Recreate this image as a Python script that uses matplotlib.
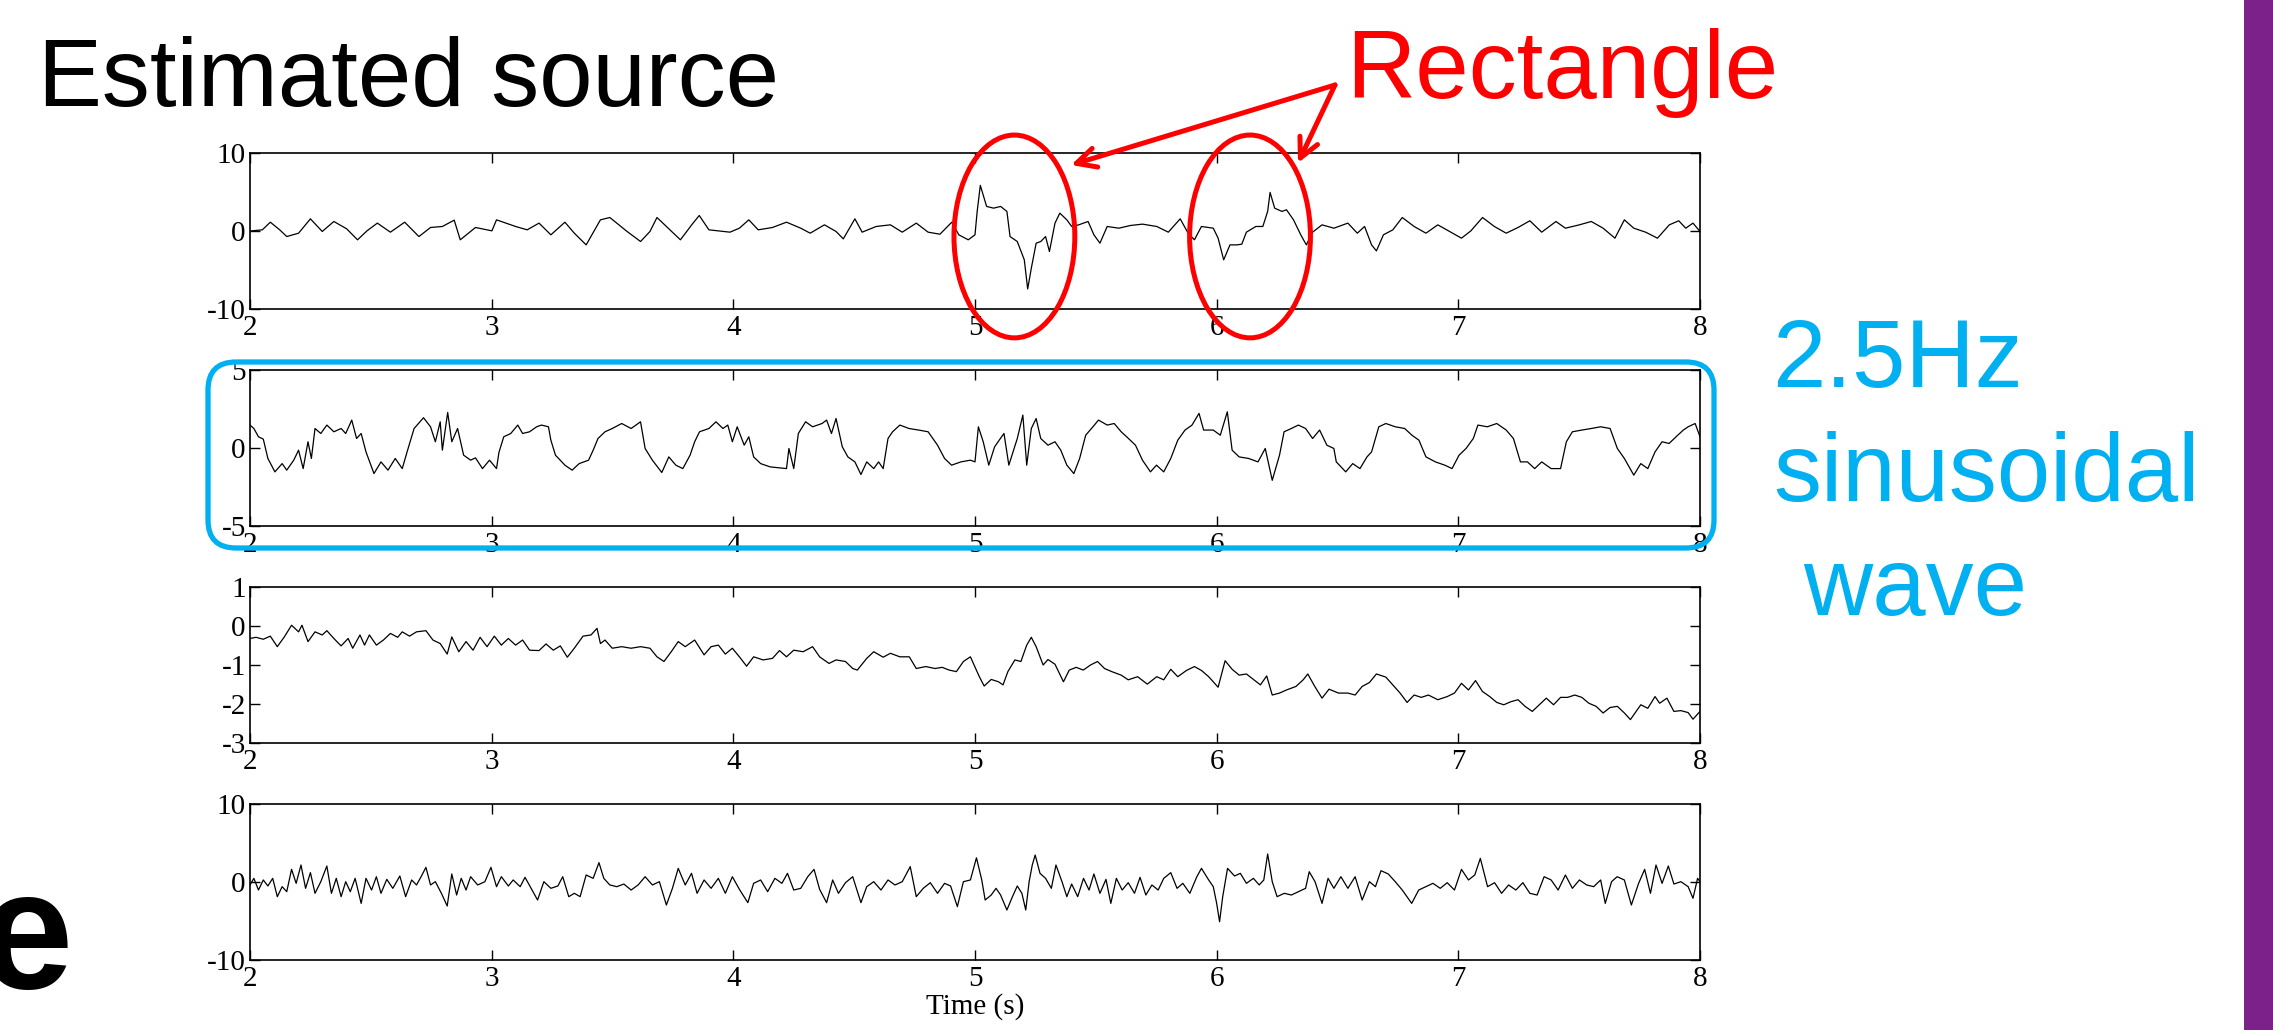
import numpy as np
import matplotlib.pyplot as plt
from matplotlib.patches import Ellipse, FancyBboxPatch, Rectangle

# ---- trace 1 (top panel) ----
t1 = [2.000, 2.051, 2.084, 2.123, 2.152, 2.201, 2.250, 2.299, 2.347, 2.400,
      2.445, 2.484, 2.527, 2.581, 2.640, 2.699, 2.747, 2.796, 2.845, 2.870,
      2.933, 3.001, 3.020, 3.099, 3.147, 3.196, 3.245, 3.303, 3.342, 3.391,
      3.450, 3.489, 3.557, 3.616, 3.655, 3.684, 3.752, 3.781, 3.830, 3.859,
      3.899, 3.986, 4.025, 4.064, 4.103, 4.162, 4.220, 4.279, 4.318, 4.377,
      4.425, 4.455, 4.503, 4.533, 4.591, 4.650, 4.699, 4.757, 4.806, 4.855,
      4.904, 4.933, 4.972,
      5.000, 5.009, 5.022, 5.048, 5.077, 5.106, 5.132, 5.145, 5.175, 5.204,
      5.218, 5.233, 5.253, 5.272, 5.292, 5.308, 5.331, 5.351, 5.380, 5.400,
      5.429, 5.468, 5.492, 5.517, 5.547, 5.595, 5.644, 5.693, 5.752, 5.800,
      5.849, 5.882, 5.908, 5.937, 5.986, 6.006, 6.029, 6.055, 6.084, 6.104,
      6.123, 6.162, 6.191, 6.211, 6.221, 6.240, 6.270, 6.289, 6.318, 6.348,
      6.371, 6.397, 6.436, 6.485, 6.543, 6.582, 6.612, 6.641, 6.661, 6.690,
      6.729, 6.768, 6.817, 6.866, 6.915, 6.964, 7.013, 7.052, 7.100, 7.149,
      7.198, 7.247, 7.296, 7.345, 7.404, 7.443, 7.501, 7.550, 7.599, 7.648,
      7.687, 7.726, 7.775, 7.824, 7.873, 7.912, 7.941, 7.971, 8.000]
v1 = [0.00, 0.15, 1.13, 0.15, -0.71, -0.28, 1.56, -0.06, 1.22, 0.28,
      -1.13, 0.02, 1.01, -0.15, 1.13, -0.71, 0.45, 0.58, 1.39, -1.13,
      0.45, 0.02, 1.43, 0.58, 0.15, 1.01, -0.49, 1.13, -0.28, -1.78,
      1.43, 1.73, 0.02, -1.35, -0.06, 1.73, -0.28, -1.13, 0.88, 1.99,
      0.15, -0.15, 0.36, 1.43, 0.15, 0.45, 1.13, 0.36, -0.28, 0.79,
      -0.06, -1.01, 1.56, -0.15, 0.58, 0.79, -0.15, 1.01, -0.15, -0.41,
      1.13, -0.49, -1.13,
      -0.49, 2.51, 5.85, 3.15, 2.93, 3.15, 2.51, -0.71, -1.35, -3.70,
      -7.43, -4.78, -1.56, -1.35, -0.71, -2.63, 1.01, 2.29, 1.43, 0.58,
      0.79, 1.22, -0.49, -1.56, 0.58, 0.36, 0.71, 0.88, 0.58, -0.15,
      1.56, -0.28, -1.13, 0.58, 0.36, -0.92, -3.70, -1.78, -1.78, -1.69,
      -0.15, 0.58, 0.58, 2.51, 4.95, 2.93, 2.51, 2.72, 1.43, -0.49,
      -1.78, -0.15, 0.79, 0.36, 1.01, -0.28, 0.58, -1.78, -2.55, -0.49,
      0.15, 1.73, 0.58, -0.28, 0.79, -0.06, -0.92, 0.02, 1.73, 0.58,
      -0.28, 0.45, 1.31, -0.15, 1.22, 0.36, 0.79, 1.22, 0.36, -0.92,
      1.43, 0.36, -0.15, -0.92, 0.79, 1.31, 0.36, 1.01, -0.06]

# ---- trace 2 (2.5 Hz wave) ----
t2 = [2.000, 2.016, 2.035, 2.055, 2.074, 2.103, 2.133, 2.152, 2.181, 2.201,
      2.220, 2.240, 2.254, 2.269, 2.293, 2.318, 2.347, 2.377, 2.396, 2.421,
      2.441, 2.460, 2.480, 2.513, 2.542, 2.571, 2.601, 2.630, 2.650, 2.679,
      2.718, 2.747, 2.767, 2.787, 2.796, 2.818, 2.835, 2.859, 2.884, 2.913,
      2.933, 2.962, 2.991, 3.020, 3.030, 3.050, 3.079, 3.108, 3.128, 3.157,
      3.186, 3.206, 3.235, 3.245, 3.264, 3.303, 3.333, 3.362, 3.401, 3.420,
      3.440, 3.469, 3.499, 3.538, 3.577, 3.616, 3.635, 3.665, 3.704, 3.733,
      3.762, 3.791, 3.821, 3.840, 3.860, 3.899, 3.928, 3.957, 3.977, 3.996,
      4.016, 4.045, 4.064, 4.084, 4.113, 4.152, 4.191, 4.220, 4.230, 4.250,
      4.269, 4.299, 4.328, 4.367, 4.386, 4.406, 4.425, 4.451, 4.474, 4.503,
      4.528, 4.552, 4.581, 4.601, 4.620, 4.640, 4.659, 4.689, 4.727, 4.767,
      4.806, 4.845, 4.874, 4.903, 4.942, 4.981,
      5.000, 5.014, 5.034, 5.057, 5.081, 5.100, 5.120, 5.140, 5.175, 5.198,
      5.214, 5.233, 5.253, 5.272, 5.302, 5.331, 5.355, 5.380, 5.409, 5.433,
      5.458, 5.488, 5.511, 5.547, 5.576, 5.605, 5.635, 5.664, 5.693, 5.726,
      5.751, 5.781, 5.810, 5.839, 5.869, 5.898, 5.927, 5.946, 5.986, 6.015,
      6.044, 6.064, 6.093, 6.132, 6.171, 6.201, 6.230, 6.260, 6.279, 6.309,
      6.338, 6.368, 6.397, 6.426, 6.456, 6.485, 6.495, 6.534, 6.563, 6.593,
      6.622, 6.641, 6.671, 6.700, 6.739, 6.778, 6.808, 6.837, 6.866, 6.905,
      6.944, 6.974, 7.003, 7.032, 7.062, 7.081, 7.120, 7.159, 7.198, 7.228,
      7.257, 7.286, 7.316, 7.345, 7.384, 7.423, 7.447, 7.472, 7.511, 7.550,
      7.589, 7.628, 7.658, 7.687, 7.726, 7.755, 7.784, 7.814, 7.843, 7.872,
      7.901, 7.931, 7.951, 7.980, 8.000]
v2 = [1.47, 1.25, 0.72, 0.57, -0.67, -1.53, -1.00, -1.42, -0.78, -0.14,
      -1.32, 0.40, -0.67, 1.25, 0.93, 1.47, 1.04, 1.25, 0.93, 1.79,
      0.61, 0.93, -0.25, -1.64, -0.89, -1.42, -0.67, -1.32, -0.25, 1.25,
      1.94, 1.36, 0.40, 1.68, -0.14, 2.28, 0.40, 1.25, -0.46, -0.78,
      -0.63, -1.32, -0.78, -1.32, -0.29, 0.72, 0.93, 1.47, 0.93, 1.04,
      1.36, 1.47, 1.36, 0.50, -0.46, -1.10, -1.42, -1.00, -0.78, -0.14,
      0.61, 1.04, 1.25, 1.57, 1.25, 1.68, -0.03, -0.78, -1.57, -0.57,
      -1.10, -1.32, -0.46, 0.40, 1.04, 1.25, 1.68, 1.25, 1.47, 0.40,
      1.36, 0.18, 0.72, -0.57, -1.00, -1.21, -1.27, -1.32, -0.03, -1.32,
      0.93, 1.68, 1.36, 1.57, 1.79, 0.93, 1.89, 0.07, -0.57, -0.89,
      -1.70, -0.89, -1.32, -0.89, -1.32, 0.61, 1.04, 1.47, 1.25, 1.15,
      1.04, 0.18, -0.67, -1.10, -0.89, -0.78,
      -0.89, 1.36, 0.40, -1.10, 0.07, 0.50, 0.93, -1.10, 0.61, 2.11,
      -1.10, 1.25, 1.89, 0.61, 0.18, 0.40, -0.14, -1.10, -1.64, -0.67,
      0.82, 1.36, 1.79, 1.47, 1.57, 1.04, 0.61, 0.18, -0.78, -1.53,
      -1.10, -1.53, -0.67, 0.50, 1.15, 1.47, 2.22, 1.15, 1.15, 0.82,
      2.32, -0.14, -0.57, -0.67, -0.89, -0.03, -2.07, -0.46, 1.04, 1.25,
      1.47, 1.25, 0.61, 1.15, 0.18, -0.03, -0.89, -1.53, -1.00, -1.32,
      -0.57, -0.25, 1.36, 1.57, 1.36, 1.25, 0.82, 0.50, -0.57, -0.89,
      -1.10, -1.32, -0.46, -0.03, 0.61, 1.47, 1.36, 1.57, 1.15, 0.61,
      -0.89, -0.89, -1.32, -0.89, -1.32, -1.32, 0.40, 1.04, 1.15, 1.25,
      1.36, 1.25, -0.03, -0.67, -1.74, -1.00, -1.32, -0.25, 0.40, 0.29,
      0.72, 1.15, 1.36, 1.57, 0.72]

# ---- trace 3 (drifting) ----
t3 = [2.000, 2.025, 2.055, 2.084, 2.113, 2.142, 2.172, 2.201, 2.215, 2.240,
      2.269, 2.299, 2.318, 2.347, 2.377, 2.406, 2.425, 2.455, 2.474, 2.494,
      2.523, 2.552, 2.581, 2.611, 2.630, 2.660, 2.689, 2.728, 2.757, 2.787,
      2.816, 2.835, 2.864, 2.894, 2.923, 2.952, 2.981, 3.011, 3.040, 3.069,
      3.099, 3.128, 3.157, 3.196, 3.225, 3.255, 3.284, 3.313, 3.342, 3.378,
      3.411, 3.436, 3.450, 3.469, 3.499, 3.538, 3.577, 3.616, 3.655, 3.684,
      3.713, 3.743, 3.772, 3.801, 3.840, 3.879, 3.908, 3.938, 3.967, 3.996,
      4.025, 4.055, 4.084, 4.123, 4.162, 4.191, 4.220, 4.250, 4.289, 4.328,
      4.357, 4.396, 4.425, 4.464, 4.494, 4.513, 4.552, 4.581, 4.620, 4.650,
      4.689, 4.728, 4.757, 4.796, 4.835, 4.864, 4.893, 4.923, 4.952, 4.981,
      5.018, 5.038, 5.067, 5.097, 5.116, 5.136, 5.165, 5.190, 5.214, 5.233,
      5.253, 5.282, 5.302, 5.331, 5.366, 5.390, 5.419, 5.448, 5.478, 5.507,
      5.536, 5.566, 5.605, 5.634, 5.673, 5.713, 5.752, 5.781, 5.810, 5.839,
      5.875, 5.908, 5.937, 5.967, 6.006, 6.035, 6.064, 6.093, 6.123, 6.152,
      6.181, 6.207, 6.230, 6.260, 6.289, 6.328, 6.358, 6.377, 6.406, 6.436,
      6.465, 6.504, 6.543, 6.573, 6.602, 6.632, 6.661, 6.700, 6.729, 6.759,
      6.788, 6.817, 6.847, 6.876, 6.915, 6.954, 6.984, 7.013, 7.042, 7.071,
      7.100, 7.130, 7.159, 7.188, 7.218, 7.247, 7.276, 7.306, 7.335, 7.364,
      7.394, 7.423, 7.452, 7.482, 7.511, 7.540, 7.570, 7.599, 7.628, 7.658,
      7.687, 7.712, 7.736, 7.755, 7.784, 7.814, 7.833, 7.863, 7.892, 7.921,
      7.951, 7.971, 8.000]
v3 = [-0.32, -0.29, -0.34, -0.26, -0.53, -0.28, 0.02, -0.15, 0.02, -0.40,
      -0.15, -0.23, -0.12, -0.32, -0.51, -0.32, -0.57, -0.23, -0.49, -0.23,
      -0.49, -0.36, -0.19, -0.29, -0.15, -0.26, -0.15, -0.12, -0.36, -0.45,
      -0.72, -0.28, -0.66, -0.40, -0.62, -0.29, -0.53, -0.26, -0.49, -0.32,
      -0.49, -0.36, -0.62, -0.63, -0.46, -0.62, -0.51, -0.80, -0.57, -0.26,
      -0.23, -0.06, -0.45, -0.36, -0.57, -0.53, -0.57, -0.53, -0.57, -0.79,
      -0.91, -0.66, -0.40, -0.53, -0.36, -0.74, -0.53, -0.49, -0.72, -0.57,
      -0.79, -1.03, -0.79, -0.87, -0.83, -0.63, -0.79, -0.62, -0.66, -0.53,
      -0.79, -0.96, -0.87, -0.91, -1.09, -1.13, -0.83, -0.66, -0.80, -0.70,
      -0.79, -0.79, -1.09, -1.04, -1.09, -1.06, -1.13, -1.17, -0.91, -0.79,
      -1.30, -1.54, -1.37, -1.43, -1.51, -1.17, -0.87, -0.91, -0.49, -0.29,
      -0.53, -1.00, -0.86, -0.98, -1.43, -1.13, -1.06, -1.13, -1.00, -0.91,
      -1.09, -1.17, -1.26, -1.38, -1.30, -1.49, -1.30, -1.38, -1.11, -1.30,
      -1.14, -1.04, -1.14, -1.30, -1.57, -0.89, -1.11, -1.26, -1.23, -1.37,
      -1.51, -1.28, -1.77, -1.72, -1.64, -1.55, -1.38, -1.23, -1.55, -1.85,
      -1.62, -1.72, -1.72, -1.77, -1.55, -1.45, -1.23, -1.31, -1.51, -1.72,
      -1.96, -1.77, -1.83, -1.77, -1.89, -1.81, -1.72, -1.47, -1.64, -1.40,
      -1.68, -1.81, -1.96, -2.02, -1.94, -1.89, -2.06, -2.19, -2.02, -1.85,
      -2.02, -1.83, -1.83, -1.77, -1.83, -1.98, -2.06, -2.23, -2.09, -2.06,
      -2.23, -2.40, -2.19, -2.02, -2.11, -1.81, -1.98, -1.85, -2.19, -2.17,
      -2.22, -2.39, -2.19]

# ---- trace 4 (bottom, noisy) ----
t4 = [2.000, 2.016, 2.035, 2.055, 2.074, 2.094, 2.113, 2.133, 2.152, 2.172,
      2.191, 2.211, 2.230, 2.250, 2.269, 2.293, 2.318, 2.337, 2.357, 2.377,
      2.396, 2.415, 2.435, 2.460, 2.480, 2.503, 2.523, 2.542, 2.566, 2.591,
      2.620, 2.644, 2.669, 2.689, 2.708, 2.728, 2.747, 2.767, 2.792, 2.816,
      2.835, 2.855, 2.874, 2.894, 2.913, 2.942, 2.972, 2.997, 3.020, 3.040,
      3.069, 3.089, 3.118, 3.138, 3.163, 3.190, 3.216, 3.245, 3.274, 3.294,
      3.319, 3.342, 3.366, 3.391, 3.420, 3.444, 3.464, 3.489, 3.518, 3.547,
      3.577, 3.606, 3.635, 3.665, 3.694, 3.723, 3.748, 3.772, 3.801, 3.827,
      3.850, 3.879, 3.908, 3.938, 3.967, 3.996, 4.025, 4.060, 4.084, 4.113,
      4.142, 4.172, 4.201, 4.224, 4.250, 4.279, 4.308, 4.334, 4.357, 4.386,
      4.411, 4.435, 4.464, 4.494, 4.528, 4.552, 4.581, 4.611, 4.640, 4.669,
      4.699, 4.732, 4.757, 4.786, 4.815, 4.845, 4.874, 4.899, 4.927, 4.952,
      4.981,
      5.006, 5.028, 5.042, 5.067, 5.087, 5.106, 5.132, 5.155, 5.175, 5.194,
      5.210, 5.224, 5.237, 5.249, 5.269, 5.292, 5.316, 5.335, 5.360, 5.380,
      5.400, 5.425, 5.449, 5.472, 5.492, 5.517, 5.542, 5.562, 5.585, 5.609,
      5.634, 5.660, 5.683, 5.707, 5.732, 5.758, 5.781, 5.810, 5.836, 5.860,
      5.889, 5.918, 5.937, 5.967, 5.986, 6.000, 6.012, 6.025, 6.045, 6.074,
      6.098, 6.123, 6.152, 6.176, 6.195, 6.211, 6.230, 6.250, 6.280, 6.309,
      6.338, 6.368, 6.383, 6.407, 6.436, 6.461, 6.485, 6.514, 6.543, 6.573,
      6.602, 6.632, 6.657, 6.680, 6.710, 6.739, 6.768, 6.807, 6.836, 6.866,
      6.895, 6.925, 6.954, 6.984, 7.013, 7.042, 7.068, 7.091, 7.121, 7.150,
      7.179, 7.208, 7.238, 7.267, 7.296, 7.326, 7.355, 7.384, 7.413, 7.443,
      7.472, 7.501, 7.531, 7.560, 7.589, 7.608, 7.634, 7.657, 7.687, 7.716,
      7.746, 7.771, 7.795, 7.818, 7.843, 7.869, 7.892, 7.921, 7.951, 7.971,
      7.990, 8.000]
v4 = [-0.38, 0.47, -1.03, 0.26, -0.51, 0.47, -1.88, -0.60, -1.24, 1.62,
      -0.17, 2.18, -0.81, 1.20, -1.45, 0.04, 2.05, -1.45, 0.47, -1.88,
      0.04, -1.24, 0.47, -2.74, 0.47, -1.03, 0.68, -1.45, 0.34, -0.81,
      0.77, -1.88, 0.26, -0.38, 0.68, 1.88, -0.38, 0.04, -1.45, -3.08,
      1.03, -1.67, 0.47, -1.03, 0.68, -0.38, 0.04, 1.88, -0.60, 0.68,
      -0.51, 0.26, -0.60, 0.60, -0.81, -2.31, 0.04, -0.81, -0.51, 0.68,
      -1.88, -1.45, -1.88, 0.90, 0.47, 2.48, 0.47, -0.38, -0.60, -0.26,
      -1.03, -0.38, 0.68, -0.38, 0.04, -2.95, -0.81, 1.75, -0.38, 1.11,
      -1.45, 0.26, -0.81, 0.47, -1.45, 0.68, -0.94, -2.65, -0.17, 0.26,
      -1.24, 0.47, -0.17, 1.11, -1.03, -0.81, 0.68, 1.62, -0.94, -2.65,
      0.26, -1.45, -0.09, 0.68, -2.65, -0.60, 0.04, -1.03, 0.26, -0.38,
      0.04, 1.97, -1.88, -0.81, -0.09, -1.45, -0.17, -0.51, -3.16, 0.04,
      0.26,
      3.10, 0.26, -2.31, -1.67, -0.81, -1.67, -3.59, -1.88, -0.51, -1.45,
      -3.59, 0.04, 2.18, 3.46, 1.11, 0.47, -0.81, 2.18, 0.04, -1.88,
      -0.26, -1.88, 0.47, -1.03, 1.03, -1.45, 0.34, -2.74, 0.47, -1.03,
      -0.09, -1.45, 0.60, -1.67, -0.38, -1.03, 0.47, 1.20, -0.81, -0.17,
      -1.45, 0.68, 1.75, 0.26, -0.60, -2.74, -5.09, -1.88, 1.75, 0.77,
      1.11, -0.17, 0.47, -0.38, 0.26, 3.59, 0.04, -1.88, -1.45, -1.67,
      -1.24, -0.81, 1.32, 0.04, -2.74, 0.47, -0.81, 0.68, -0.81, 0.68,
      -2.31, 0.04, -0.60, 1.45, 1.03, 0.04, -1.03, -2.74, -1.03, -0.60,
      -0.17, -0.81, -0.09, -1.03, 1.62, 0.26, 0.90, 3.03, -0.60, -0.09,
      -1.45, -0.38, -1.03, -0.09, -1.45, -1.67, 0.68, 0.26, -1.03, 0.90,
      -0.81, 0.26, -0.38, -0.60, 0.26, -2.74, 0.04, 0.68, 0.26, -2.95,
      -0.17, 1.62, -1.45, 2.18, -0.17, 2.05, -0.26, 0.04, -0.60, -2.09,
      0.47, 0.04]

traces = [(t1, v1), (t2, v2), (t3, v3), (t4, v4)]
ylims = [(-10, 10), (-5, 5), (-3, 1), (-10, 10)]
yticks = [[-10, 0, 10], [-5, 0, 5], [-3, -2, -1, 0, 1], [-10, 0, 10]]
xticks = [2, 3, 4, 5, 6, 7, 8]

# spikes highlighted in the first panel (centre time, centre value)
marked = [(5.163, -0.7), (6.138, -0.7)]

W, H = 2273, 1030
fig = plt.figure(figsize=(W / 100, H / 100), dpi=100)
serif = ['Liberation Serif', 'DejaVu Serif']
sans = ['Liberation Sans', 'DejaVu Sans']

ax_left, ax_right, ax_h = 250, 1700, 156
tops = [153, 370, 587, 804]
axes = []
for k, (t, v) in enumerate(traces):
    ax = fig.add_axes([ax_left / W, 1 - (tops[k] + ax_h) / H,
                       (ax_right - ax_left) / W, ax_h / H])
    ax.plot(t, v, color='black', lw=0.9)
    ax.set_xlim(2, 8)
    ax.set_ylim(*ylims[k])
    ax.set_xticks(xticks)
    ax.set_xticklabels([str(x) for x in xticks], family=serif, fontsize=21)
    ax.set_yticks(yticks[k])
    ax.set_yticklabels([str(y) for y in yticks[k]], family=serif, fontsize=21)
    ax.tick_params(direction='in', length=7, width=1, top=True, right=True)
    ax.tick_params(axis='x', pad=4)
    ax.tick_params(axis='y', pad=3)
    for sp in ax.spines.values():
        sp.set_linewidth(1.2)
    axes.append(ax)

axes[3].set_xlabel('Time (s)', family=serif, fontsize=21, labelpad=1)

# red ellipses + arrows
for cx, cy in marked:
    axes[0].add_patch(Ellipse((cx, cy), 0.5, 26, fill=False, ec='#FF0000',
                              lw=3.6, clip_on=False, zorder=10))
for tip in [(1071, H - 165), (1298, H - 163)]:
    axes[0].annotate('', xy=tip, xycoords='figure pixels',
                     xytext=(1335, H - 85), textcoords='figure pixels',
                     arrowprops=dict(arrowstyle='->', color='#FF0000', lw=3.6,
                                     mutation_scale=35, shrinkA=0, shrinkB=0),
                     annotation_clip=False, zorder=10)

# blue rounded box around the second panel
fig.add_artist(FancyBboxPatch((2.08, 4.82), 15.06, 1.86,
                              boxstyle='round,pad=0,rounding_size=0.28',
                              transform=fig.dpi_scale_trans, fill=False,
                              ec='#00B0F0', lw=3.8, zorder=5))

# purple bar on the right edge
fig.add_artist(Rectangle((22.44, 0), 0.4, H / 100, transform=fig.dpi_scale_trans,
                         fc='#7B2189', ec='none', zorder=5))

# slide texts
fig.text(38 / W, 1 - 106 / H, 'Estimated source', family=sans, fontsize=69,
         color='black', va='baseline', ha='left')
fig.text(1346 / W, 1 - 98 / H, 'Rectangle', family=sans, fontsize=69,
         color='#FF0000', va='baseline', ha='left')
fig.text(1772 / W, 1 - 387 / H, '2.5Hz', family=sans, fontsize=69,
         color='#00B0F0', va='baseline', ha='left')
fig.text(1773 / W, 1 - 501 / H, 'sinusoidal', family=sans, fontsize=69,
         color='#00B0F0', va='baseline', ha='left')
fig.text(1803 / W, 1 - 615 / H, 'wave', family=sans, fontsize=69,
         color='#00B0F0', va='baseline', ha='left')
fig.text(-21 / W, 1 - 988 / H, 'e', family=sans, fontsize=121,
         fontweight='bold', color='black', va='baseline', ha='left')

fig.savefig('out.png', dpi=100)
